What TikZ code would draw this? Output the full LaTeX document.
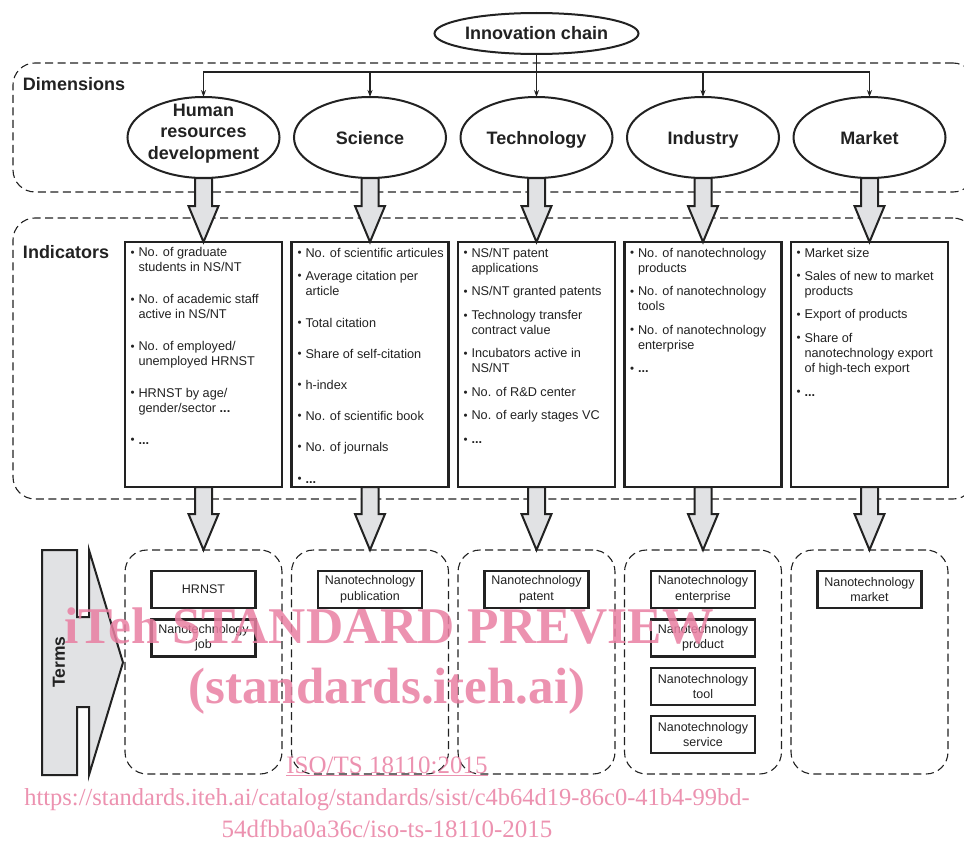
\documentclass[tikz,border=0pt]{standalone}
\usepackage{fontspec}
\setmainfont{Liberation Sans}
\newfontfamily\wmfont{Liberation Serif}
\usetikzlibrary{shapes.geometric,arrows.meta,calc}
\definecolor{ink}{HTML}{222222}
\definecolor{arrowgray}{HTML}{E1E2E4}
\definecolor{wmpink}{HTML}{E97FA2}
\newcommand\bitem[1]{\begin{tabular}[t]{@{}l@{\hspace{4pt}}l@{}}\raisebox{0.3pt}{\fontsize{11.5}{11.5}\selectfont\textbullet}&#1\end{tabular}}
\newcommand\blockarrow[2]{\draw[blockarr] ([xshift=-8.5pt]#1.south) -- ([xshift=-8.5pt,yshift=36pt]#2.north) -- ([xshift=-15pt,yshift=36pt]#2.north) -- (#2.north) -- ([xshift=15pt,yshift=36pt]#2.north) -- ([xshift=8.5pt,yshift=36pt]#2.north) -- ([xshift=8.5pt]#1.south) -- cycle;}
\begin{document}
\begin{tikzpicture}[x=1pt,y=-1pt,
  every node/.style={inner sep=0pt, outer sep=0pt},
  dashbox/.style={draw=ink, line width=1.1pt, dash pattern=on 8pt off 4.5pt, rounded corners=22pt},
  solidbox/.style={draw=ink, line width=2.2pt, fill=white},
  ell/.style={ellipse, draw=ink, line width=2pt, fill=white},
  titletext/.style={font=\fontsize{18}{21.3}\selectfont\bfseries, align=center, text=ink},
  itemtext/.style={anchor=base west, font=\fontsize{12.7}{15.2}\selectfont, text=ink},
  termbox/.style={solidbox, minimum width=104pt, minimum height=37pt, align=center, font=\fontsize{12.5}{15.5}\selectfont, text=ink},
  blockarr/.style={draw=ink, line width=2pt, fill=arrowgray, line join=miter},
  thinarr/.style={draw=ink, line width=1.1pt, -{Stealth[length=7pt,width=5pt]}},
  wm/.style={text=wmpink, opacity=0.85}
]
\useasboundingbox (0,0) rectangle (964,843);
\clip (0,0) rectangle (964,843);

% dashed region frames
\node[dashbox, minimum width=962pt, minimum height=129pt] (dims) at (494,127.5) {};
\node[dashbox, minimum width=962pt, minimum height=281pt] (inds) at (494,358.5) {};
\node[titletext, anchor=base west] (dimlabel) at (23,90) {Dimensions};
\node[titletext, anchor=base west] (indlabel) at (23,258) {Indicators};

% top ellipse
\node[ell, minimum width=204pt, minimum height=41pt] (ic) at (536.5,33.5) {};
\node[titletext, anchor=base] (ict) at (536.5,40) {Innovation chain};

% dimension ellipses
\foreach \n/\x in {d1/203.5,d2/370,d3/536.5,d4/703,d5/869.5}
  \node[ell, minimum width=152pt, minimum height=81pt] (\n) at (\x,137.5) {};
\node[titletext] (d1t) at (203.5,133.5) {Human\\resources\\development};
\node[titletext, anchor=base] (d2t) at (370,144.5) {Science};
\node[titletext, anchor=base] (d3t) at (536.5,144.5) {Technology};
\node[titletext, anchor=base] (d4t) at (703,144.5) {Industry};
\node[titletext, anchor=base] (d5t) at (869.5,144.5) {Market};

% connectors from innovation chain
\foreach \n in {d1,d2,d4,d5}
  \draw[thinarr] (ic.south) -- ++(0,18) -| (\n.north);
\draw[thinarr] (ic.south) -- (d3.north);

% indicator boxes
\foreach \n/\x in {i1/203.5,i2/370,i3/536.5,i4/703,i5/869.5}
  \node[solidbox, minimum width=157pt, minimum height=245pt] (\n) at (\x,364.5) {};

% terms frames
\foreach \n/\x in {t1/203.5,t2/370,t3/536.5,t4/703,t5/869.5}
  \node[dashbox, minimum width=157pt, minimum height=224pt] (\n) at (\x,662) {};

% block arrows
\blockarrow{d1}{i1}
\blockarrow{d2}{i2}
\blockarrow{d3}{i3}
\blockarrow{d4}{i4}
\blockarrow{d5}{i5}
\blockarrow{i1}{t1}
\blockarrow{i2}{t2}
\blockarrow{i3}{t3}
\blockarrow{i4}{t4}
\blockarrow{i5}{t5}

% indicator items column 1
\node[itemtext] (a1) at (130.5,256.5) {\bitem{No. of graduate\\&students in NS/NT}};
\node[itemtext] (a2) at (130.5,303.5) {\bitem{No. of academic staff\\&active in NS/NT}};
\node[itemtext] (a3) at (130.5,350.5) {\bitem{No. of employed/\\&unemployed HRNST}};
\node[itemtext] (a4) at (130.5,397) {\bitem{HRNST by age/\\&gender/sector \textbf{...}}};
\node[itemtext] (a5) at (130.5,444) {\bitem{\textbf{...}}};
% column 2
\node[itemtext] (b1) at (297.5,257) {\bitem{No. of scientific articules}};
\node[itemtext] (b2) at (297.5,280) {\bitem{Average citation per\\&article}};
\node[itemtext] (b3) at (297.5,327) {\bitem{Total citation}};
\node[itemtext] (b4) at (297.5,358) {\bitem{Share of self-citation}};
\node[itemtext] (b5) at (297.5,389) {\bitem{h-index}};
\node[itemtext] (b6) at (297.5,420) {\bitem{No. of scientific book}};
\node[itemtext] (b7) at (297.5,451) {\bitem{No. of journals}};
\node[itemtext] (b8) at (297.5,483) {\bitem{\textbf{...}}};
% column 3
\node[itemtext] (c1) at (463.5,257) {\bitem{NS/NT patent\\&applications}};
\node[itemtext] (c2) at (463.5,295.5) {\bitem{NS/NT granted patents}};
\node[itemtext] (c3) at (463.5,319.5) {\bitem{Technology transfer\\&contract value}};
\node[itemtext] (c4) at (463.5,357.5) {\bitem{Incubators active in\\&NS/NT}};
\node[itemtext] (c5) at (463.5,396.5) {\bitem{No. of R\&D center}};
\node[itemtext] (c6) at (463.5,419.5) {\bitem{No. of early stages VC}};
\node[itemtext] (c7) at (463.5,443.5) {\bitem{\textbf{...}}};
% column 4
\node[itemtext] (e1) at (630,257) {\bitem{No. of nanotechnology\\&products}};
\node[itemtext] (e2) at (630,295.5) {\bitem{No. of nanotechnology\\&tools}};
\node[itemtext] (e3) at (630,334) {\bitem{No. of nanotechnology\\&enterprise}};
\node[itemtext] (e4) at (630,372.5) {\bitem{\textbf{...}}};
% column 5
\node[itemtext] (f1) at (796.5,257) {\bitem{Market size}};
\node[itemtext] (f2) at (796.5,280) {\bitem{Sales of new to market\\&products}};
\node[itemtext] (f3) at (796.5,318.5) {\bitem{Export of products}};
\node[itemtext] (f4) at (796.5,342) {\bitem{Share of\\&nanotechnology export\\&of high-tech export}};
\node[itemtext] (f5) at (796.5,396) {\bitem{\textbf{...}}};

% terms boxes
\node[termbox] (h1) at (203.5,589.5) {HRNST};
\node[termbox] (h2) at (203.5,638) {Nanotechnology\\job};
\node[termbox] (p1) at (370,589.5) {Nanotechnology\\publication};
\node[termbox] (q1) at (536.5,589.5) {Nanotechnology\\patent};
\node[termbox] (r1) at (703,589.5) {Nanotechnology\\enterprise};
\node[termbox] (r2) at (703,638) {Nanotechnology\\product};
\node[termbox] (r3) at (703,686.5) {Nanotechnology\\tool};
\node[termbox] (r4) at (703,734.5) {Nanotechnology\\service};
\node[termbox] (m1) at (869.5,589.5) {Nanotechnology\\market};

% Terms arrow
\draw[blockarr] (42,550) -- (77,550) -- (77,617) -- (89,617) -- (89,550) -- (123,662.5) -- (89,775) -- (89,707) -- (77,707) -- (77,775) -- (42,775) -- cycle;
\node[titletext, rotate=90, font=\fontsize{17.5}{20}\selectfont\bfseries] (termslabel) at (59,662) {Terms};

% watermark
\node[wm, anchor=base, font=\wmfont\bfseries\fontsize{51.5}{51.5}\selectfont] (wm1) at (389,643) {iTeh STANDARD PREVIEW};
\node[wm, anchor=base, font=\wmfont\bfseries\fontsize{51}{51}\selectfont] (wm2) at (387,703) {(standards.iteh.ai)};
\node[wm, anchor=base, font=\wmfont\fontsize{25}{25}\selectfont] (wm3) at (387,773) {\underline{ISO/TS 18110:2015}};
\node[wm, anchor=base, font=\wmfont\fontsize{24.5}{24.5}\selectfont] (wm4) at (387,805) {https://standards.iteh.ai/catalog/standards/sist/c4b64d19-86c0-41b4-99bd-};
\node[wm, anchor=base, font=\wmfont\fontsize{25}{25}\selectfont] (wm5) at (387,837) {54dfbba0a36c/iso-ts-18110-2015};
\end{tikzpicture}
\end{document}
